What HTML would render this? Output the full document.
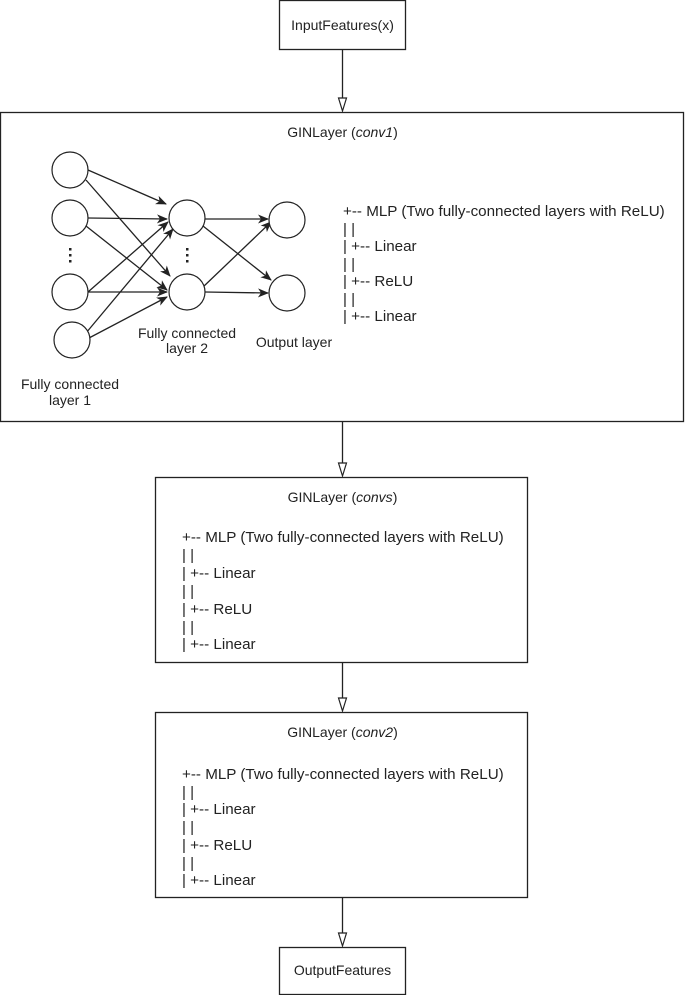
<!DOCTYPE html>
<html><head><meta charset="utf-8"><style>
body{margin:0;background:#fff}
svg{display:block}
text{font-family:"Liberation Sans",Arial,sans-serif;font-size:14px;fill:#222}
.m{font-size:15.2px}
</style></head><body>
<svg width="685" height="995" viewBox="0 0 685 995">
<defs>
<marker id="ah" markerWidth="12" markerHeight="12" refX="10" refY="6" orient="auto" markerUnits="userSpaceOnUse">
<path d="M0,1.5 L11,6 L0,10.5 L3,6 Z" fill="#222"/>
</marker>
</defs>
<g fill="none" stroke="#222" stroke-width="1.3">
<rect x="279.5" y="0.5" width="126" height="49"/>
<rect x="0.5" y="112.5" width="683" height="309"/>
<rect x="155.5" y="477.5" width="372" height="185"/>
<rect x="155.5" y="712.5" width="372" height="185"/>
<rect x="279.5" y="947.5" width="126" height="47"/>
<line x1="342.5" y1="50" x2="342.5" y2="98"/>
<line x1="342.5" y1="422" x2="342.5" y2="463"/>
<line x1="342.5" y1="663" x2="342.5" y2="698"/>
<line x1="342.5" y1="898" x2="342.5" y2="933"/>
</g>
<g fill="#fff" stroke="#222" stroke-width="1.2">
<path d="M338.5,98 L346.5,98 L342.5,111 Z"/>
<path d="M338.5,463 L346.5,463 L342.5,476 Z"/>
<path d="M338.5,698 L346.5,698 L342.5,711 Z"/>
<path d="M338.5,933 L346.5,933 L342.5,946 Z"/>
</g>
<g stroke="#222" stroke-width="1.3" marker-end="url(#ah)">
<line x1="88" y1="170" x2="166" y2="204"/>
<line x1="86" y1="180" x2="170" y2="276"/>
<line x1="88" y1="218" x2="167" y2="219"/>
<line x1="86" y1="226" x2="167" y2="290"/>
<line x1="88" y1="292" x2="168" y2="222"/>
<line x1="88" y1="292" x2="167" y2="292"/>
<line x1="86" y1="333" x2="173" y2="229"/>
<line x1="89" y1="338" x2="167" y2="297"/>
<line x1="205" y1="219" x2="268" y2="219"/>
<line x1="203" y1="226" x2="271" y2="280"/>
<line x1="203" y1="287" x2="271" y2="222"/>
<line x1="205" y1="292" x2="268" y2="293"/>
</g>
<g fill="#fff" stroke="#222" stroke-width="1.2">
<circle cx="70" cy="170" r="18"/>
<circle cx="70" cy="218" r="18"/>
<circle cx="70" cy="292" r="18"/>
<circle cx="72" cy="340" r="18"/>
<circle cx="187" cy="218" r="18"/>
<circle cx="187" cy="292" r="18"/>
<circle cx="287" cy="220" r="18"/>
<circle cx="287" cy="293" r="18"/>
</g>
<g fill="#222">
<rect x="69" y="248" width="2.5" height="2.5"/><rect x="69" y="254" width="2.5" height="2.5"/><rect x="69" y="260" width="2.5" height="2.5"/>
<rect x="186" y="248" width="2.5" height="2.5"/><rect x="186" y="254" width="2.5" height="2.5"/><rect x="186" y="260" width="2.5" height="2.5"/>
</g>
<text x="342.5" y="30" text-anchor="middle">InputFeatures(x)</text>
<text x="342.5" y="137" text-anchor="middle">GINLayer (<tspan font-style="italic">conv1</tspan>)</text>
<text x="187" y="338" text-anchor="middle" font-size="12.5">Fully connected</text>
<text x="187" y="353" text-anchor="middle" font-size="12.5">layer 2</text>
<text x="294" y="347" text-anchor="middle" font-size="12.5">Output layer</text>
<text x="70" y="389" text-anchor="middle" font-size="12.5">Fully connected</text>
<text x="70" y="405" text-anchor="middle" font-size="12.5">layer 1</text>
<g class="m">
<text class="m" x="343" y="216">+-- MLP (Two fully-connected layers with ReLU)</text>
<text class="m" x="343" y="234">| |</text>
<text class="m" x="343" y="251">| +-- Linear</text>
<text class="m" x="343" y="269">| |</text>
<text class="m" x="343" y="286">| +-- ReLU</text>
<text class="m" x="343" y="304">| |</text>
<text class="m" x="343" y="321">| +-- Linear</text>
</g>
<text x="342.5" y="502" text-anchor="middle">GINLayer (<tspan font-style="italic">convs</tspan>)</text>
<g>
<text class="m" x="182" y="542">+-- MLP (Two fully-connected layers with ReLU)</text>
<text class="m" x="182" y="560">| |</text>
<text class="m" x="182" y="578">| +-- Linear</text>
<text class="m" x="182" y="596">| |</text>
<text class="m" x="182" y="614">| +-- ReLU</text>
<text class="m" x="182" y="632">| |</text>
<text class="m" x="182" y="649">| +-- Linear</text>
</g>
<text x="342.5" y="737" text-anchor="middle">GINLayer (<tspan font-style="italic">conv2</tspan>)</text>
<g>
<text class="m" x="182" y="779">+-- MLP (Two fully-connected layers with ReLU)</text>
<text class="m" x="182" y="797">| |</text>
<text class="m" x="182" y="814">| +-- Linear</text>
<text class="m" x="182" y="832">| |</text>
<text class="m" x="182" y="850">| +-- ReLU</text>
<text class="m" x="182" y="868">| |</text>
<text class="m" x="182" y="885">| +-- Linear</text>
</g>
<text x="342.5" y="975" text-anchor="middle">OutputFeatures</text>
</svg>
</body></html>
